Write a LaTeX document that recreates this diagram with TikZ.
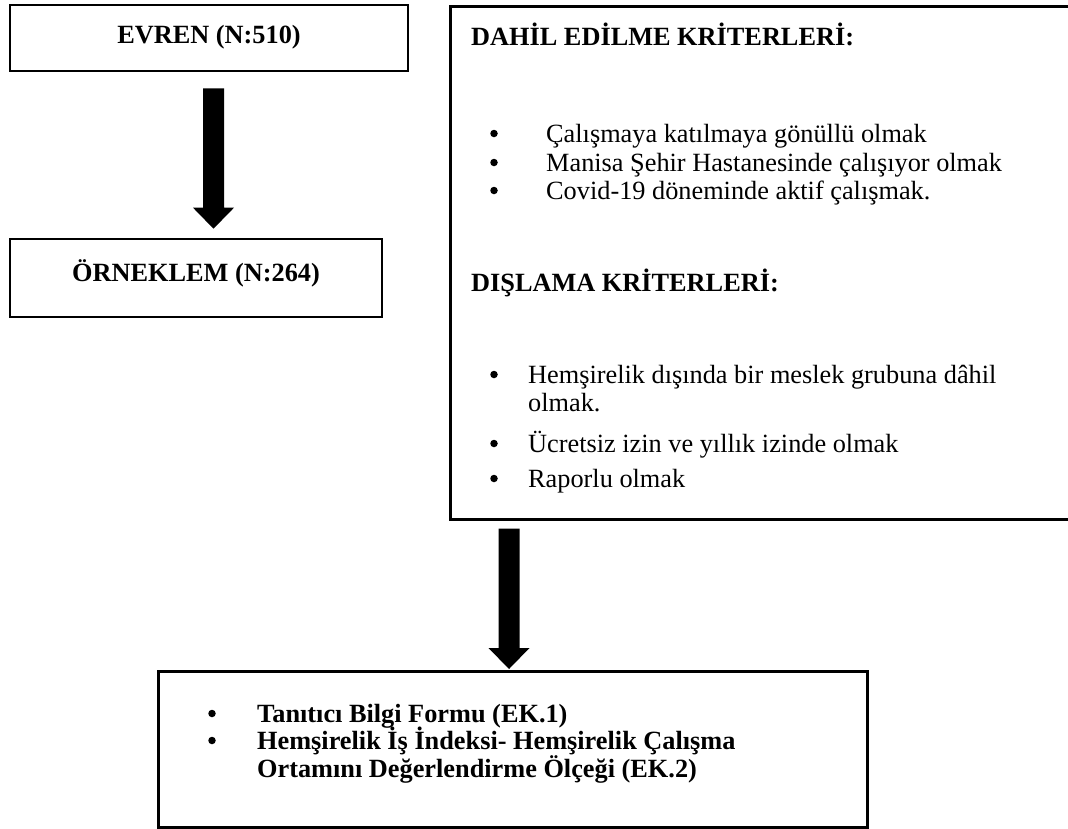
\documentclass[tikz,border=0pt]{standalone}
\usepackage{fontspec}
\setmainfont{Liberation Serif}
\usetikzlibrary{calc}
\tikzset{
  box/.style={draw=black, line width=2.6pt, fill=white, inner sep=0pt},
  title/.style={font=\fontsize{26.3}{28}\selectfont\bfseries, inner sep=0pt},
  head/.style={font=\fontsize{26.3}{28}\selectfont\bfseries, inner sep=0pt, anchor=base west},
  item/.style={font=\fontsize{26.3}{28}\selectfont, inner sep=0pt, anchor=base west},
  bitem/.style={font=\fontsize{26.3}{28}\selectfont\bfseries, inner sep=0pt, anchor=base west},
  bul/.style={circle, fill=black, inner sep=0pt, minimum size=7.5pt, yshift=8.5pt},
}
\newcommand{\bigarrow}[2]{%
  \fill ($(#1)+(-10.5,0)$) -- ($(#1)+(10.5,0)$) -- ($(#2)+(10.5,-21)$) -- ($(#2)+(20.5,-21)$) -- (#2) -- ($(#2)+(-20.5,-21)$) -- ($(#2)+(-10.5,-21)$) -- cycle;}
\begin{document}
\begin{tikzpicture}[x=1pt,y=-1pt]
\useasboundingbox (0,0) rectangle (1068,828);
% left boxes
\node[box, minimum width=398, minimum height=66] (evren) at (209,38) {};
\node[title] (evrent) at ($(evren.center)+(0,-1)$) {EVREN (N:510)};
\node[box, minimum width=372, minimum height=78] (orneklem) at (196,278) {};
\node[title] (ornt) at ($(orneklem.center)+(0,-5)$) {ÖRNEKLEM (N:264)};
% arrow 1
\coordinate (a1s) at ($(evren.south)+(4.5,16)$);
\coordinate (a1e) at ($(orneklem.north)+(17.5,-9)$);
\bigarrow{a1s}{a1e}
% right criteria box
\node[box, minimum width=630, minimum height=513, anchor=north west] (crit) at (449,5) {};
\node[head] (h1) at ($(crit.north west)+(22,40)$) {DAHİL EDİLME KRİTERLERİ:};
\node[bul] at ($(crit.north west)+(45,137)$) {};
\node[item] (d1) at ($(crit.north west)+(97,137)$) {Çalışmaya katılmaya gönüllü olmak};
\node[bul] at ($(crit.north west)+(45,166)$) {};
\node[item] (d2) at ($(crit.north west)+(97,166)$) {Manisa Şehir Hastanesinde çalışıyor olmak};
\node[bul] at ($(crit.north west)+(45,194)$) {};
\node[item] (d3) at ($(crit.north west)+(97,194)$) {Covid-19 döneminde aktif çalışmak.};
\node[head] (h2) at ($(crit.north west)+(22,286)$) {DIŞLAMA KRİTERLERİ:};
\node[bul] at ($(crit.north west)+(45,378)$) {};
\node[item] (e1) at ($(crit.north west)+(79,378)$) {Hemşirelik dışında bir meslek grubuna dâhil};
\node[item] (e1b) at ($(crit.north west)+(79,406)$) {olmak.};
\node[bul] at ($(crit.north west)+(45,447)$) {};
\node[item] (e2) at ($(crit.north west)+(79,447)$) {Ücretsiz izin ve yıllık izinde olmak};
\node[bul] at ($(crit.north west)+(45,482)$) {};
\node[item] (e3) at ($(crit.north west)+(79,482)$) {Raporlu olmak};
% bottom box
\node[box, minimum width=709, minimum height=156, anchor=north west] (forms) at (157,670) {};
\node[bul] at ($(forms.north west)+(55,52)$) {};
\node[bitem] (f1) at ($(forms.north west)+(100,52)$) {Tanıtıcı Bilgi Formu (EK.1)};
\node[bul] at ($(forms.north west)+(55,79)$) {};
\node[bitem] (f2) at ($(forms.north west)+(100,79)$) {Hemşirelik İş İndeksi- Hemşirelik Çalışma};
\node[bitem] (f3) at ($(forms.north west)+(100,107)$) {Ortamını Değerlendirme Ölçeği (EK.2)};
% arrow 2
\coordinate (a2s) at ($(crit.south west)+(60,8)$);
\coordinate (a2e) at ($(forms.north west)+(352,-1)$);
\bigarrow{a2s}{a2e}
\end{tikzpicture}
\end{document}
